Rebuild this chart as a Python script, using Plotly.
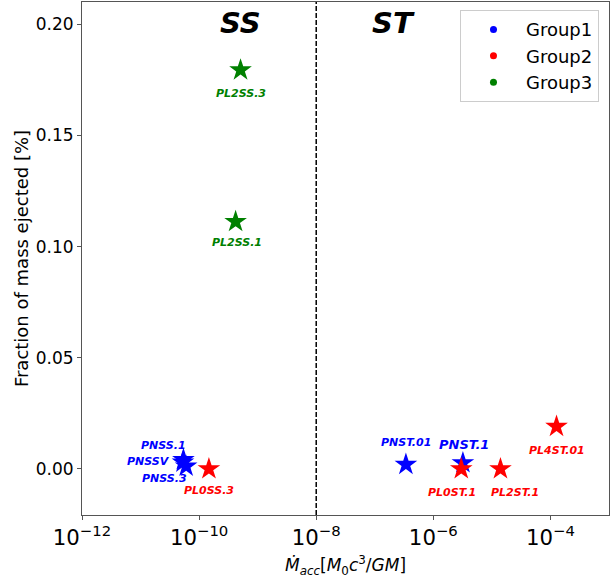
import numpy as np
import plotly.graph_objects as go

# Accretion rate (M0 c^3/GM) and fraction of mass ejected (%) per run
group1_names = ["PNSS.1", "PNSSV", "PNSS.3", "PNST.01", "PNST.1"]
group1_macc = [5.4e-11, 5.3e-11, 6.0e-11, 3.4e-7, 3.2e-6]
group1_frac = [0.0042, 0.0030, 0.0012, 0.0020, 0.0027]

group2_names = ["PL0SS.3", "PL0ST.1", "PL2ST.1", "PL4ST.01"]
group2_macc = [1.47e-10, 3.0e-6, 1.4e-5, 1.27e-4]
group2_frac = [0.0, 0.0, 0.0, 0.0191]

group3_names = ["PL2SS.3", "PL2SS.1"]
group3_macc = [5.1e-10, 4.2e-10]
group3_frac = [0.1794, 0.1112]

# pixel offsets of each run label relative to its marker
label_shift = {
    "PNSS.1": (-20, 14), "PNSSV": (-34, 1), "PNSS.3": (-22, -12),
    "PNST.01": (0, 22), "PNST.1": (1, 18),
    "PL0SS.3": (0, -22), "PL0ST.1": (-9, -24), "PL2ST.1": (15, -24),
    "PL4ST.01": (0, -24),
    "PL2SS.3": (0, -23), "PL2SS.1": (1, -21),
}
label_size = {"PNST.1": 13}

regime_names = ["SS", "ST"]
regime_x = [5.1e-10, 2.05e-7]
regime_y = [0.2004, 0.2004]
boundary_macc = 1e-8

groups = [
    ("Group1", "#0000ff", group1_names, group1_macc, group1_frac),
    ("Group2", "#ff0000", group2_names, group2_macc, group2_frac),
    ("Group3", "#008000", group3_names, group3_macc, group3_frac),
]

fig = go.Figure()

for name, color, names, macc, frac in groups:
    fig.add_trace(go.Scatter(
        x=macc, y=frac, mode="markers", showlegend=False,
        marker=dict(symbol="star", size=17, color=color, line=dict(width=0)),
        hoverinfo="text", text=names,
    ))

# legend entries drawn as small dots
for name, color, names, macc, frac in groups:
    fig.add_trace(go.Scatter(
        x=[None], y=[None], mode="markers", name=name,
        marker=dict(symbol="circle", size=7, color=color),
    ))

for name, color, names, macc, frac in groups:
    for n, xv, yv in zip(names, macc, frac):
        dx, dy = label_shift[n]
        fig.add_annotation(
            x=np.log10(xv), y=yv, xref="x", yref="y",
            text=f"<b><i>{n}</i></b>", showarrow=False,
            xshift=dx, yshift=dy,
            font=dict(family="DejaVu Sans", size=label_size.get(n, 11), color=color),
        )

for n, xv, yv in zip(regime_names, regime_x, regime_y):
    fig.add_annotation(
        x=np.log10(xv), y=yv, xref="x", yref="y",
        text=f"<b><i>{n}</i></b>", showarrow=False,
        font=dict(family="DejaVu Sans", size=29, color="black"),
    )

fig.add_shape(
    type="line", xref="x", yref="paper",
    x0=boundary_macc, x1=boundary_macc, y0=0, y1=1,
    line=dict(color="black", width=1.5, dash="5px,2px"),
)

axis_common = dict(
    showline=True, mirror=True, linecolor="#555", linewidth=1,
    ticks="outside", ticklen=4, tickcolor="#555",
    showgrid=False, zeroline=False,
    tickfont=dict(family="DejaVu Sans", size=17, color="black"),
)

fig.update_xaxes(
    type="log", range=[-12, -3], dtick=2, tick0=0,
    exponentformat="power", showexponent="all",
    title=dict(
        text="<i>Ṁ<sub>acc</sub></i>[<i>M</i><sub>0</sub><i>c</i><sup>3</sup>/<i>GM</i>]",
        font=dict(family="DejaVu Sans", size=17, color="black"), standoff=10,
    ),
    **axis_common,
)
fig.update_yaxes(
    range=[-0.0207, 0.21], tickvals=[0.0, 0.05, 0.10, 0.15, 0.20],
    ticktext=["0.00", "0.05", "0.10", "0.15", "0.20"],
    title=dict(text="Fraction of mass ejected [%]",
               font=dict(family="DejaVu Sans", size=18, color="black"), standoff=2),
    **axis_common,
)

fig.update_layout(
    width=615, height=579,
    margin=dict(l=82, r=6, t=2, b=64),
    paper_bgcolor="white", plot_bgcolor="white",
    legend=dict(
        x=0.981, y=0.984, xanchor="right", yanchor="top",
        bordercolor="#cccccc", borderwidth=1, bgcolor="white",
        font=dict(family="DejaVu Sans", size=18, color="black"),
        itemwidth=55, tracegroupgap=0,
    ),
    showlegend=True,
)

fig.write_html("out.html")
